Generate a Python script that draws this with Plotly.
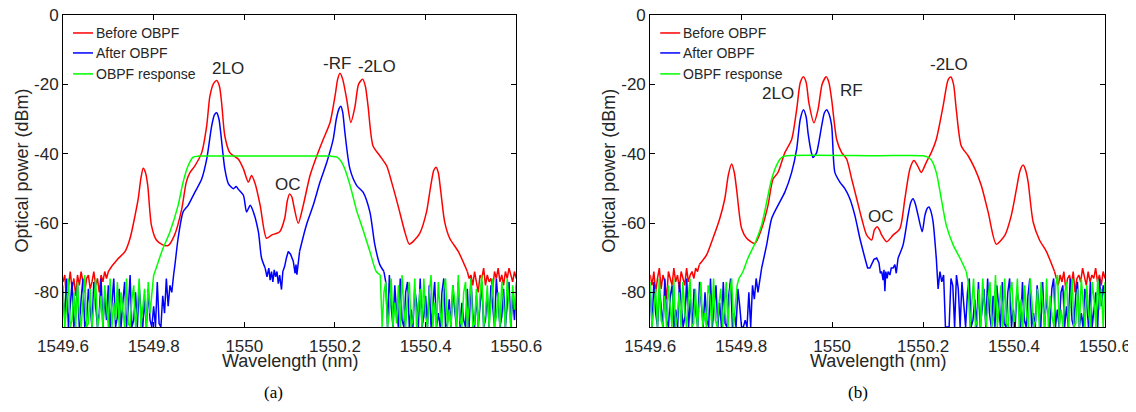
import numpy as np
import plotly.graph_objects as go

RED, BLUE, GREEN = "#ff0000", "#0000ff", "#00ff00"
names = ["Before OBPF", "After OBPF", "OBPF response"]
x_tickvals = [1549.6, 1549.8, 1550.0, 1550.2, 1550.4, 1550.6]
x_ticktext = ["1549.6", "1549.8", "1550", "1550.2", "1550.4", "1550.6"]
y_tickvals = [0, -20, -40, -60, -80]
y_ticktext = ["0", "-20", "-40", "-60", "-80"]

# ======================= Panel (a) =======================
a_red_wl = [1549.708,1549.720,1549.737,1549.748,1549.759,1549.766,1549.772,1549.777,1549.782,1549.787,
            1549.795,1549.806,1549.820,1549.832,1549.846,1549.862,1549.872,1549.880,1549.891,1549.906,
            1549.917,1549.924,1549.932,1549.939,1549.945,1549.950,1549.957,1549.968,1549.987,1549.998,
            1550.009,1550.016,1550.024,1550.035,1550.049,1550.060,1550.078,1550.089,1550.095,1550.100,
            1550.105,1550.109,1550.119,1550.130,1550.145,1550.160,1550.174,1550.189,1550.200,1550.206,
            1550.211,1550.217,1550.226,1550.235,1550.244,1550.252,1550.261,1550.267,1550.273,1550.284,
            1550.299,1550.314,1550.325,1550.339,1550.354,1550.364,1550.375,1550.387,1550.402,1550.408,
            1550.413,1550.418,1550.423,1550.428,1550.433,1550.442,1550.453,1550.472,1550.492]
a_red_db = [-72.4,-70.5,-68.2,-64.4,-57.8,-53,-47,-44.2,-45.5,-49.2,
            -60.6,-64.9,-66.3,-66.5,-63.5,-55.9,-48.2,-45.5,-43.5,-39.7,
            -32,-23.5,-19.8,-18.9,-20.5,-25.4,-34.9,-39.7,-41.6,-44.4,
            -48.2,-46.3,-48.7,-54.9,-64.4,-63.5,-62.5,-58.7,-53.5,-51.6,
            -52.5,-54.9,-60.1,-54.9,-46.3,-40.6,-35.9,-31.1,-23.5,-18.5,
            -16.8,-18.5,-24.4,-31,-26.5,-20,-18.5,-20.5,-26.3,-37.8,
            -40.6,-43.5,-48.2,-54.9,-62.5,-66.1,-65,-63,-56.8,-52,
            -48,-44.8,-43.9,-45.5,-50.4,-59.7,-64.4,-68.2,-74]
a_red_noise_left = [-77,-75,-83,-78,-74,-79,-76,-81,-75,-78,-74,-77,-80,-76,-75,-79,-77,-74,-78,-76,
                    -80,-75,-77,-74,-76,-74,-73,-72.4]            # 1549.600 -> 1549.708
a_red_noise_right = [-74,-76,-75,-78,-74,-77,-80,-75,-76,-73,-78,-75,-77,-76,-79,-74,-76,-73,-77,-75,
                     -78,-74,-76,-73,-75,-77,-74,-76]             # 1550.492 -> 1550.600

a_blue1_wl = [1549.844,1549.847,1549.854,1549.865,1549.876,1549.891,1549.906,1549.917,1549.928,1549.934,
              1549.939,1549.944,1549.948,1549.957,1549.965,1549.976,1549.982,1549.987,1549.998,1550.005,
              1550.013,1550.020,1550.031,1550.038,1550.046]
a_blue1_db = [-75,-72,-64.4,-56.8,-54.9,-51.1,-47.3,-41.6,-32,-28.8,
              -28.2,-30,-34,-44.4,-48.7,-50.1,-49.5,-50.3,-52,-56.8,
              -54.9,-56.8,-62.5,-70.1,-73]
a_blue_mid_wl = [1550.046,1550.050,1550.054,1550.057,1550.060,1550.063,1550.066,1550.069,1550.072,1550.075,
                 1550.078,1550.082,1550.085,1550.089,1550.093,1550.097,1550.102,1550.108,1550.112,1550.114,
                 1550.116,1550.119,1550.122]
a_blue_mid_db = [-73,-75.5,-73,-76.5,-74,-77,-73.5,-75.5,-74,-77.5,
                 -75,-79.2,-74,-72.5,-70,-68.2,-69,-71,-74.5,-72,
                 -74.9,-71,-68.2]
a_blue2_wl = [1550.122,1550.137,1550.152,1550.167,1550.182,1550.196,1550.203,1550.209,1550.213,1550.217,
              1550.222,1550.233,1550.248,1550.262,1550.277,1550.288,1550.299,1550.308]
a_blue2_db = [-68.2,-60.6,-54.9,-48.2,-42.5,-35.9,-30,-27,-26.3,-28,
              -34,-44.4,-49.2,-51.1,-56.8,-66.3,-72,-74]
a_blue_noise_left = [-80,-88,-76,-90,-84,-77,-90,-86,-78,-90,
                     -82,-76,-90,-88,-79,-85,-90,-77,-83,-90,
                     -86,-76,-90,-81,-88,-78,-90,-84,-76,-90,
                     -87,-79,-90,-83,-77,-90,-85,-75,-90,-88,
                     -80,-90,-78,-86,-90,-82,-90,-79,-88,-90,
                     -84,-90,-77,-89,-90,-81,-86,-76,-84,-78,
                     -80,-75]                                      # 1549.600 -> 1549.844
a_blue_noise_right = [-74,-77,-90,-75,-84,-90,-78,-86,-90,-76,
                      -88,-90,-80,-77,-90,-85,-90,-79,-83,-90,
                      -76,-90,-87,-81,-90,-78,-90,-84,-77,-90,
                      -86,-90,-80,-76,-90,-89,-82,-90,-78,-85,
                      -90,-77,-90,-83,-88,-90,-79,-90,-76,-86,
                      -90,-81,-90,-84,-77,-90,-88,-80,-90,-78,
                      -85,-90,-76,-82,-90,-87,-79,-90,-84,-77,
                      -90,-81,-88,-78]                             # 1550.308 -> 1550.600

a_green_wl = [1549.800,1549.803,1549.818,1549.836,1549.854,1549.865,1549.876,1549.887,1549.900,1550.000,
              1550.100,1550.190,1550.205,1550.215,1550.222,1550.233,1550.248,1550.262,1550.277,1550.291,
              1550.300]
a_green_db = [-75,-74,-68.2,-62.5,-54.9,-48.2,-43.5,-41,-40.7,-40.7,
              -40.7,-40.7,-41,-42.5,-44.5,-49,-56.5,-62,-68.2,-74,
              -75]
a_green_noise_left = [-78,-90,-84,-76,-90,-88,-80,-90,-77,-86,
                      -90,-82,-75,-90,-89,-79,-90,-84,-76,-90,
                      -87,-81,-90,-78,-85,-90,-76,-90,-83,-88,
                      -77,-90,-80,-86,-90,-76,-89,-90,-82,-78,
                      -90,-85,-76,-90,-84,-79,-90,-77,-86,-80,
                      -75]                                         # 1549.600 -> 1549.800
a_green_noise_right = [-75,-90,-80,-77,-90,-86,-76,-90,-83,-89,
                       -78,-90,-75,-85,-90,-81,-77,-90,-88,-76,
                       -90,-84,-79,-90,-76,-87,-90,-80,-75,-90,
                       -83,-90,-77,-86,-90,-79,-76,-90,-85,-90,
                       -78,-82,-90,-75,-88,-90,-80,-77,-90,-84,
                       -76,-90,-89,-79,-90,-81,-75,-90,-86,-78,
                       -90,-83,-76,-90,-87,-80,-90,-77,-84,-90,
                       -76,-82,-90,-78,-85,-77]                    # 1550.300 -> 1550.600

# ======================= Panel (b) =======================
b_red_wl = [1549.708,1549.724,1549.738,1549.753,1549.764,1549.772,1549.779,1549.785,1549.790,1549.801,
            1549.812,1549.830,1549.845,1549.859,1549.870,1549.881,1549.896,1549.911,1549.922,1549.930,
            1549.937,1549.943,1549.949,1549.960,1549.969,1549.978,1549.987,1549.993,1549.999,1550.010,
            1550.021,1550.032,1550.043,1550.054,1550.065,1550.076,1550.087,1550.093,1550.099,1550.104,
            1550.109,1550.120,1550.134,1550.149,1550.160,1550.171,1550.180,1550.188,1550.196,1550.207,
            1550.218,1550.229,1550.244,1550.255,1550.261,1550.267,1550.273,1550.284,1550.299,1550.314,
            1550.328,1550.343,1550.361,1550.380,1550.394,1550.405,1550.413,1550.420,1550.426,1550.431,
            1550.442,1550.456,1550.471,1550.489]
b_red_db = [-72,-69.2,-64.4,-58.7,-53,-46,-43,-45.5,-50.4,-61.6,
            -64.4,-65.9,-61.6,-54.9,-47.3,-45.4,-39.7,-35.9,-27.3,-19.5,
            -17.8,-19.5,-25.4,-31.1,-27.3,-20,-17.8,-19.5,-24.4,-35.9,
            -39.7,-41.6,-47.3,-53,-58.7,-63.5,-64.9,-62,-61.1,-62,
            -63.5,-65.4,-63.5,-61.6,-53,-44.4,-42,-43.5,-45.4,-42.5,
            -39.7,-35.9,-26.3,-18.7,-17.9,-20,-27.3,-37.8,-40.6,-44.4,
            -49.2,-56.8,-66.1,-63.5,-57.8,-50.4,-45,-43.3,-45,-48.2,
            -59.7,-64.9,-68.2,-74]
b_red_noise_left = [-75,-78,-74,-80,-76,-73,-79,-75,-77,-82,-74,-76,-78,-73,-77,-75,-79,-74,-76,-78,
                    -73,-77,-75,-74,-76,-73,-74,-72]              # 1549.600 -> 1549.708
b_red_noise_right = [-74,-76,-78,-75,-77,-74,-79,-76,-75,-78,-74,-80,-76,-75,-77,-73,-76,-78,-74,-77,
                     -75,-76,-73,-77,-75,-78,-74,-76]             # 1550.489 -> 1550.600

b_blue1_wl = [1549.845,1549.856,1549.867,1549.881,1549.896,1549.911,1549.922,1549.930,1549.937,1549.943,
              1549.947,1549.954,1549.958,1549.962,1549.966,1549.977,1549.983,1549.988,1549.993,1549.999,
              1550.006,1550.017,1550.028,1550.039,1550.050,1550.061,1550.072]
b_blue1_db = [-73,-66.3,-58.7,-54.9,-51.1,-45.4,-38.7,-30,-27.3,-29.5,
              -34,-39.5,-41.1,-40.5,-39.7,-32,-28.2,-27.3,-28.5,-32,
              -45.4,-48.2,-50.1,-53,-57.8,-64.4,-70.1]
b_blue_mid_wl = [1550.072,1550.078,1550.083,1550.087,1550.092,1550.098,1550.103,1550.106,1550.109,1550.112,
                 1550.114,1550.116,1550.118,1550.121,1550.123,1550.127,1550.130,1550.134,1550.138,1550.141,
                 1550.145]
b_blue_mid_db = [-70.1,-73,-73,-72,-70.5,-70.1,-71.5,-74.5,-74,-76.5,
                 -73.5,-79.7,-74,-76,-74,-75,-73,-73,-72,-74.5,
                 -70.1]
b_blue2_wl = [1550.145,1550.156,1550.167,1550.173,1550.178,1550.183,1550.189,1550.198,1550.204,1550.209,
              1550.213,1550.218,1550.222,1550.229]
b_blue2_db = [-70.1,-66.3,-57.8,-54,-53,-54.5,-57.8,-62.5,-57.8,-55.8,
              -55.4,-57,-59.7,-70.1]
b_blue_noise_left = [-80,-90,-77,-86,-90,-79,-84,-90,-76,-88,
                     -90,-81,-78,-90,-85,-90,-77,-83,-90,-87,
                     -76,-90,-82,-90,-79,-86,-90,-77,-84,-90,
                     -80,-88,-90,-76,-90,-85,-78,-90,-83,-90,
                     -77,-89,-90,-81,-76,-90,-86,-90,-79,-84,
                     -90,-90,-88,-90,-80,-90,-78,-82,-76,-80,
                     -76,-73]                                      # 1549.600 -> 1549.845
b_blue_noise_right = [-70,-79,-74,-77,-75,-90,-90,-90,-76,-78,
                      -90,-75,-79,-90,-77,-84,-90,-80,-76,-90,
                      -88,-82,-90,-77,-90,-85,-79,-90,-76,-86,
                      -90,-81,-90,-78,-84,-90,-77,-89,-90,-80,
                      -76,-90,-85,-90,-79,-83,-90,-77,-88,-90,
                      -81,-76,-90,-86,-90,-78,-84,-90,-77,-90,
                      -82,-87,-90,-79,-76,-90,-85,-90,-80,-78,
                      -90,-84,-90,-76,-88,-90,-81,-77,-90,-86,
                      -90,-79,-83,-90,-77,-90,-85,-80,-90,-76,
                      -84,-78,-82]                                 # 1550.229 -> 1550.600

b_green_wl = [1549.795,1549.804,1549.815,1549.830,1549.845,1549.856,1549.867,1549.881,1549.890,1549.900,
              1550.100,1550.200,1550.210,1550.218,1550.229,1550.240,1550.251,1550.266,1550.281,1550.295]
b_green_db = [-76,-74,-70.1,-66,-60.6,-54,-47.3,-42.5,-41,-40.6,
              -40.6,-40.6,-41,-41.8,-45.4,-53,-60.6,-66.3,-70.1,-74]
b_green_noise_left = [-77,-90,-85,-79,-90,-76,-88,-90,-81,-90,
                      -78,-84,-90,-76,-90,-87,-80,-90,-77,-85,
                      -90,-82,-76,-90,-89,-79,-90,-84,-77,-90,
                      -86,-90,-78,-81,-90,-76,-88,-90,-83,-79,
                      -90,-85,-77,-90,-80,-76,-90,-84,-78,-76]     # 1549.600 -> 1549.795
b_green_noise_right = [-74,-77,-90,-83,-76,-90,-88,-79,-90,-76,
                       -85,-90,-81,-77,-90,-87,-75,-90,-84,-78,
                       -90,-76,-89,-90,-80,-77,-90,-85,-76,-90,
                       -82,-90,-78,-86,-90,-76,-83,-90,-88,-79,
                       -90,-77,-84,-90,-76,-90,-81,-87,-90,-78,
                       -75,-90,-85,-90,-80,-77,-90,-83,-76,-90,
                       -89,-79,-90,-76,-84,-90,-78,-86,-90,-77,
                       -82,-90,-76,-85,-79,-90,-77]                # 1550.295 -> 1550.600

# ======================= Build figure =======================
fig = go.Figure()


def grid(lo, hi, vals):
    return np.linspace(lo, hi, len(vals))


def add(xs, ys, color, name, panel, spline):
    xa, ya = ("x", "y") if panel == "a" else ("x2", "y2")
    line = dict(color=color, width=1.5)
    if spline:
        line.update(shape="spline", smoothing=0.7)
    fig.add_trace(go.Scatter(x=list(xs), y=list(ys), mode="lines", line=line, name=name,
                             legendgroup=panel + name, showlegend=False,
                             xaxis=xa, yaxis=ya, hoverinfo="skip"))


# panel (a)
add(a_red_wl, a_red_db, RED, names[0], "a", True)
add(grid(1549.600, 1549.708, a_red_noise_left), a_red_noise_left, RED, names[0], "a", False)
add(grid(1550.492, 1550.600, a_red_noise_right), a_red_noise_right, RED, names[0], "a", False)
add(a_blue1_wl, a_blue1_db, BLUE, names[1], "a", True)
add(a_blue_mid_wl, a_blue_mid_db, BLUE, names[1], "a", False)
add(a_blue2_wl, a_blue2_db, BLUE, names[1], "a", True)
add(grid(1549.600, 1549.844, a_blue_noise_left), a_blue_noise_left, BLUE, names[1], "a", False)
add(grid(1550.308, 1550.600, a_blue_noise_right), a_blue_noise_right, BLUE, names[1], "a", False)
add(a_green_wl, a_green_db, GREEN, names[2], "a", True)
add(grid(1549.600, 1549.800, a_green_noise_left), a_green_noise_left, GREEN, names[2], "a", False)
add(grid(1550.300, 1550.600, a_green_noise_right), a_green_noise_right, GREEN, names[2], "a", False)

# panel (b)
add(b_red_wl, b_red_db, RED, names[0], "b", True)
add(grid(1549.600, 1549.708, b_red_noise_left), b_red_noise_left, RED, names[0], "b", False)
add(grid(1550.489, 1550.600, b_red_noise_right), b_red_noise_right, RED, names[0], "b", False)
add(b_blue1_wl, b_blue1_db, BLUE, names[1], "b", True)
add(b_blue_mid_wl, b_blue_mid_db, BLUE, names[1], "b", False)
add(b_blue2_wl, b_blue2_db, BLUE, names[1], "b", True)
add(grid(1549.600, 1549.845, b_blue_noise_left), b_blue_noise_left, BLUE, names[1], "b", False)
add(grid(1550.229, 1550.600, b_blue_noise_right), b_blue_noise_right, BLUE, names[1], "b", False)
add(b_green_wl, b_green_db, GREEN, names[2], "b", True)
add(grid(1549.600, 1549.795, b_green_noise_left), b_green_noise_left, GREEN, names[2], "b", False)
add(grid(1550.295, 1550.600, b_green_noise_right), b_green_noise_right, GREEN, names[2], "b", False)

FONT = "Liberation Sans, Arial, sans-serif"
TXT = "#262626"

# page body has an 8px default margin: the figure is sized to the visible window
W, H = 1128, 404
ML, MR, MT, MB = 55, 30.5, 7, 84.5
PW, PH = W - ML - MR, H - MT - MB          # 1042.5 x 312.5


def px(sx):   # screen x -> paper x
    return (sx - 8 - ML) / PW


def py(sy):   # screen y -> paper y
    return (H - MB - (sy - 8)) / PH


axis_common = dict(showline=True, linecolor="black", linewidth=1, mirror="ticks",
                   ticks="inside", ticklen=5, tickcolor="black", tickwidth=1,
                   tickfont=dict(family=FONT, size=17, color=TXT), automargin=False,
                   ticklabeloverflow="allow",
                   showgrid=False, zeroline=False, fixedrange=True)

xa = dict(axis_common, range=[1549.6, 1550.6], tickvals=x_tickvals, ticktext=x_ticktext,
          ticklabelstandoff=4)
ya = dict(axis_common, range=[-90, 0], tickvals=y_tickvals, ticktext=y_ticktext, domain=[0, 1],
          ticklabelstandoff=0)

fig.update_layout(
    width=W, height=H,
    margin=dict(l=ML, r=MR, t=MT, b=MB, autoexpand=False),
    paper_bgcolor="white", plot_bgcolor="white",
    xaxis=dict(xa, domain=[0, 453.5 / PW], anchor="y"),
    yaxis=dict(ya, anchor="x"),
    xaxis2=dict(xa, domain=[587.5 / PW, 1], anchor="y2"),
    yaxis2=dict(ya, anchor="x2"),
    showlegend=False,
)

title_font = dict(family=FONT, size=18, color=TXT)
for ax_left, ax_right in [(63, 516.5), (650.5, 1105.5)]:
    # axis titles
    fig.add_annotation(text="Wavelength (nm)", x=px((ax_left + ax_right) / 2), y=py(362),
                       xanchor="center", yanchor="middle",
                       xref="paper", yref="paper", showarrow=False, font=title_font)
    fig.add_annotation(text="Optical power (dBm)", x=px(ax_left - 41.3), y=py(171), textangle=-90,
                       xanchor="center", yanchor="middle",
                       xref="paper", yref="paper", showarrow=False, font=title_font)
    # legend
    for name, color, row_y in zip(names, [RED, BLUE, GREEN], [33, 53, 74]):
        fig.add_shape(type="line", xref="paper", yref="paper",
                      x0=px(ax_left + 10), x1=px(ax_left + 30), y0=py(row_y), y1=py(row_y),
                      line=dict(color=color, width=1.5))
        fig.add_annotation(text=name, x=px(ax_left + 31), y=py(row_y),
                           xanchor="left", yanchor="middle",
                           xref="paper", yref="paper", showarrow=False,
                           font=dict(family=FONT, size=14, color=TXT))

ann_font = dict(family=FONT, size=17, color=TXT)
labels_a = [("2LO", 1549.963, -15.4), ("-RF", 1550.204, -13.9), ("-2LO", 1550.292, -14.9), ("OC", 1550.096, -49.0)]
labels_b = [("2LO", 1549.880, -22.6), ("RF", 1550.043, -21.9), ("-2LO", 1550.257, -14.3), ("OC", 1550.108, -58.0)]
for t, xv, yv in labels_a:
    fig.add_annotation(text=t, x=xv, y=yv, xref="x", yref="y", showarrow=False, font=ann_font,
                       xanchor="center", yanchor="middle")
for t, xv, yv in labels_b:
    fig.add_annotation(text=t, x=xv, y=yv, xref="x2", yref="y2", showarrow=False, font=ann_font,
                       xanchor="center", yanchor="middle")

sub_font = dict(family="Liberation Serif, Times New Roman, serif", size=17, color="black")
fig.add_annotation(text="(a)", x=px(274), y=py(393), xref="paper", yref="paper",
                   xanchor="center", yanchor="middle", showarrow=False, font=sub_font)
fig.add_annotation(text="(b)", x=px(858), y=py(393), xref="paper", yref="paper",
                   xanchor="center", yanchor="middle", showarrow=False, font=sub_font)

fig.write_html("out.html")
